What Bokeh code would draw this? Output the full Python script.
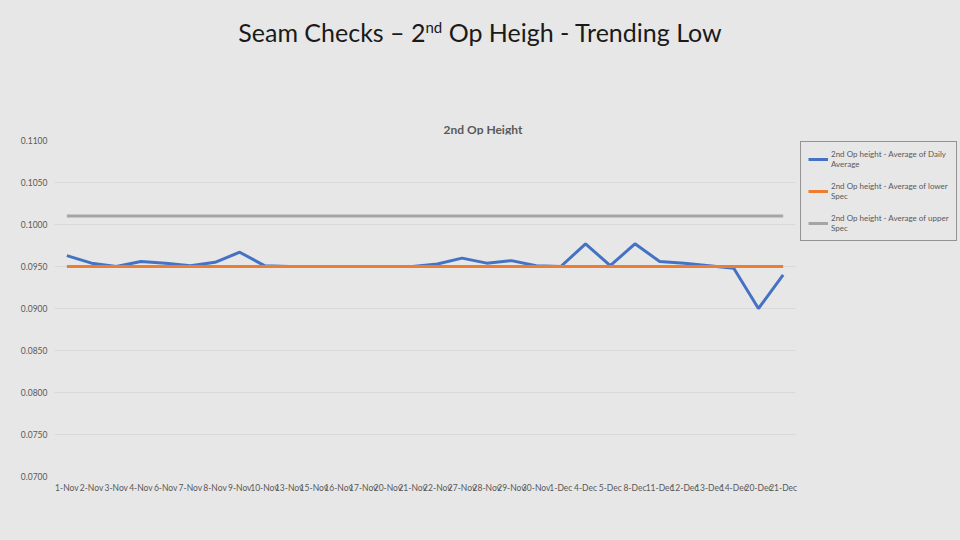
from bokeh.plotting import figure
from bokeh.layouts import column, row
from bokeh.models import (Range1d, FixedTicker, NumeralTickFormatter, Legend,
                          LegendItem, Div)
from bokeh.embed import file_html
from bokeh.resources import INLINE

categories = ["1-Nov", "2-Nov", "3-Nov", "4-Nov", "6-Nov", "7-Nov", "8-Nov",
              "9-Nov", "10-Nov", "13-Nov", "15-Nov", "16-Nov", "17-Nov",
              "20-Nov", "21-Nov", "22-Nov", "27-Nov", "28-Nov", "29-Nov",
              "30-Nov", "1-Dec", "4-Dec", "5-Dec", "8-Dec", "11-Dec",
              "12-Dec", "13-Dec", "14-Dec", "20-Dec", "21-Dec"]
daily_avg = [0.0963, 0.0954, 0.0950, 0.0956, 0.0954, 0.0951, 0.0955,
             0.0967, 0.0951, 0.0950, 0.0950, 0.0950, 0.0950, 0.0950,
             0.0950, 0.0953, 0.0960, 0.0954, 0.0957, 0.0951, 0.0950,
             0.0977, 0.0951, 0.0977, 0.0956, 0.0954, 0.0951, 0.0948,
             0.0900, 0.0940]
lower_spec = [0.0950] * 30
upper_spec = [0.1010] * 30
y_ticks = [0.070, 0.075, 0.080, 0.085, 0.090, 0.095, 0.100, 0.105, 0.110]
legend_labels = ["2nd Op height - Average of Daily\nAverage",
                 "2nd Op height - Average of lower\nSpec",
                 "2nd Op height - Average of upper\nSpec"]

BG = "#e7e7e7"
FONT = "Lato"
DIV_H = 134
PLOT_W = 800
COLORS = ["#4472C4", "#ED7D31", "#A5A5A5"]
series = [daily_avg, lower_spec, upper_spec]

header = Div(
    text=('<div style="position:relative;width:960px;height:%dpx;font-family:Lato">'
          '<div style="position:absolute;top:15px;left:0;width:960px;'
          'text-align:center;font-size:25px;color:#1a1a1a">'
          'Seam Checks \u2013 2<sup style="font-size:15px">nd</sup> '
          'Op Heigh - Trending Low</div>'
          '<div style="position:absolute;top:121px;left:0;width:966px;'
          'text-align:center;font-size:12px;font-weight:bold;color:#595959">'
          '2nd Op Height</div></div>') % DIV_H,
    width=960, height=DIV_H, margin=0,
    styles={"background-color": BG})

p = figure(width=PLOT_W, height=540 - DIV_H, x_range=categories,
           y_range=Range1d(0.07, 0.11), output_backend="svg",
           toolbar_location=None, min_border_left=54,
           min_border_right=PLOT_W - 795,
           min_border_top=140 - DIV_H, min_border_bottom=64,
           background_fill_color=BG, border_fill_color=BG,
           outline_line_color=None, margin=0)
p.x_range.range_padding = 0

for ys, c in zip(series, COLORS):
    p.line(categories, ys, line_color=c, line_width=3)

p.xgrid.grid_line_color = None
p.ygrid.grid_line_color = "#d9d9d9"
p.ygrid.grid_line_width = 1

p.yaxis.ticker = FixedTicker(ticks=y_ticks)
p.yaxis.formatter = NumeralTickFormatter(format="0.0000")
for ax in (p.xaxis[0], p.yaxis[0]):
    ax.axis_line_color = None
    ax.major_tick_line_color = None
    ax.minor_tick_line_color = None
    ax.major_tick_out = 0
    ax.major_label_text_font = FONT
    ax.major_label_text_font_size = "8.5px"
    ax.major_label_text_color = "#595959"
p.yaxis.major_label_standoff = 7
p.xaxis.major_label_standoff = 6

# legend panel
p2 = figure(width=960 - PLOT_W, height=540 - DIV_H, x_range=p.x_range,
            y_range=p.y_range, output_backend="svg", toolbar_location=None,
            min_border=0, x_axis_location=None, y_axis_location=None,
            background_fill_color=BG, border_fill_color=BG,
            outline_line_color=None, margin=0)
p2.grid.visible = False
items = []
for ys, c, lab in zip(series, COLORS, legend_labels):
    r = p2.line(categories, ys, line_color=c, line_width=3, visible=False)
    items.append(LegendItem(label=lab, renderers=[r]))

legend = Legend(items=items, location=(0, 235))
legend.label_text_font = FONT
legend.label_text_font_size = "8px"
legend.label_text_color = "#595959"
legend.label_text_line_height = 1.3
legend.glyph_width = 20
legend.glyph_height = 10
legend.label_standoff = 3
legend.spacing = 12
legend.padding = 7
legend.margin = 0
legend.border_line_color = "#404040"
legend.border_line_width = 1
legend.background_fill_color = BG
legend.background_fill_alpha = 1.0
p2.add_layout(legend)

layout = column(header, row(p, p2, spacing=0, margin=0), spacing=0, margin=0,
                styles={"background-color": BG})

open("out.html", "w").write(file_html(layout, INLINE))
